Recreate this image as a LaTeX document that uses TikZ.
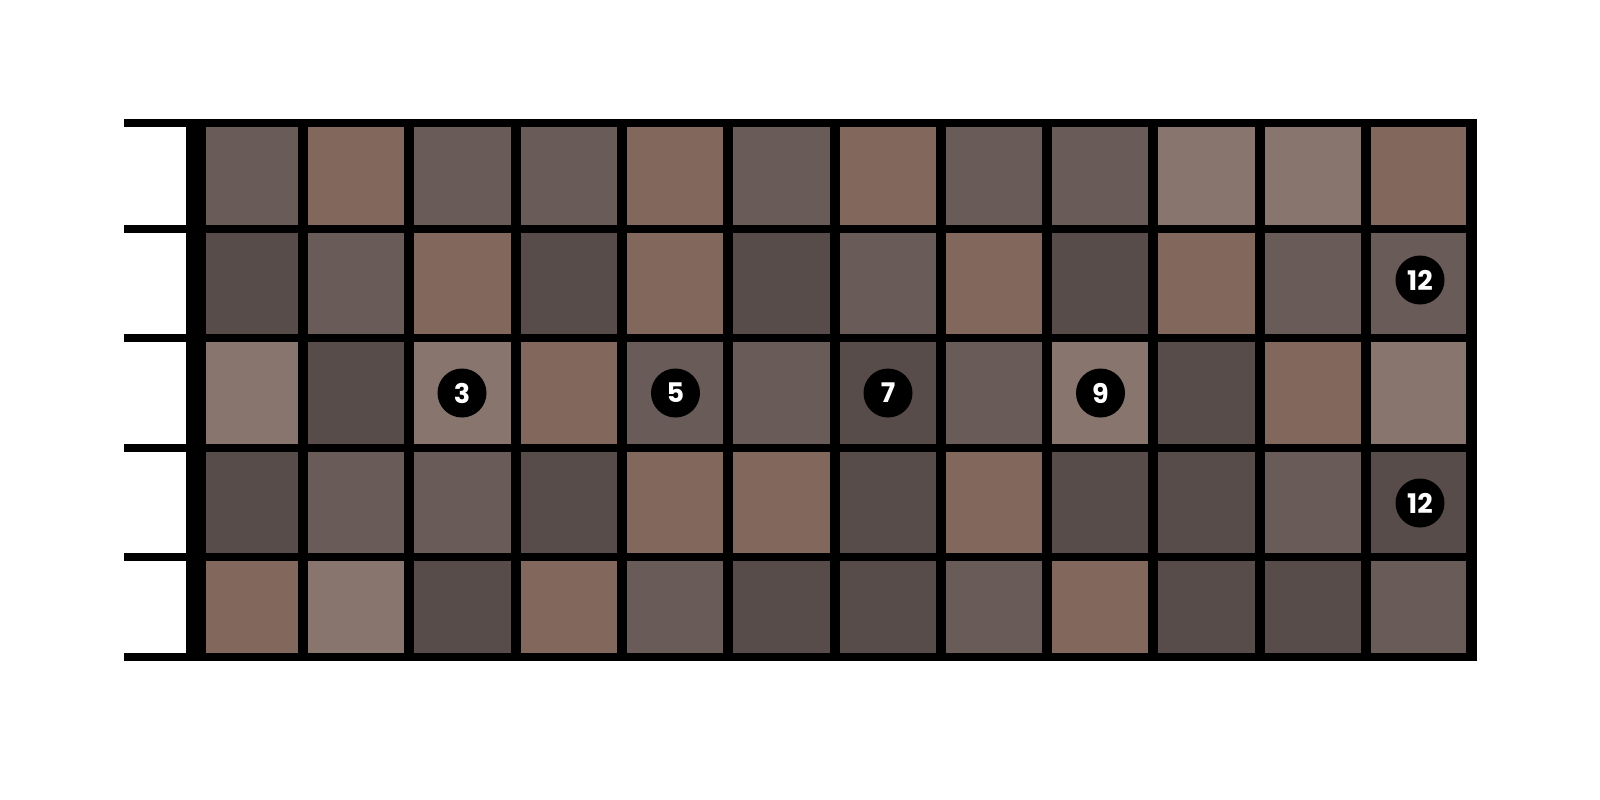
\documentclass[tikz,border=0pt]{standalone}
\usepackage{fontspec}
\newfontfamily\dotfont{Poppins}
\definecolor{cA}{HTML}{695B57}
\definecolor{cB}{HTML}{81675C}
\definecolor{cC}{HTML}{574C4A}
\definecolor{cD}{HTML}{87756E}
\newcommand\fbrow[3]{%
  \foreach \c [count=\j] in {#3} {%
    \pgfmathsetmacro\xl{\j==1 ? 206 : 196.7+106.3*(\j-1)+5}%
    \pgfmathsetmacro\xr{\j==12 ? 1466 : 196.7+106.3*\j-5}%
    \fill[fill=c\c] (\xl,#1) rectangle (\xr,#2);
  }%
}
\begin{document}
\begin{tikzpicture}[x=1pt,y=-1pt,
  dotn/.style={circle,fill=black,minimum size=49pt,inner sep=0pt,text=white,
    font=\dotfont\bfseries\fontsize{27}{27}\selectfont}]
\useasboundingbox[fill=white] (0,0) rectangle (1600,800);
% board background (nut, frets, strings, border)
\fill[black] (186,119) rectangle (1477,661);
% string extensions left of the nut
\foreach \ya/\yb in {119/127,224.5/233,333.5/342,443.5/452,552.5/561,653/661}
  \fill[black] (124,\ya) rectangle (186,\yb);
% cells
\fbrow{127}{224.5}{A,B,A,A,B,A,B,A,A,D,D,B}
\fbrow{233}{333.5}{C,A,B,C,B,C,A,B,C,B,A,A}
\fbrow{342}{443.5}{D,C,D,B,A,A,C,A,D,C,B,D}
\fbrow{452}{552.5}{C,A,A,C,B,B,C,B,C,C,A,C}
\fbrow{561}{653}{B,D,C,B,A,C,C,A,B,C,C,A}
% fret markers
\node[dotn] (d3) at (462,393) {3};
\node[dotn] (d5) at (675.5,393) {5};
\node[dotn] (d7) at (888,393) {7};
\node[dotn] (d9) at (1100.5,393) {9};
\node[dotn] (d12a) at (1420,280) {12};
\node[dotn] (d12b) at (1420,503) {12};
\end{tikzpicture}
\end{document}
